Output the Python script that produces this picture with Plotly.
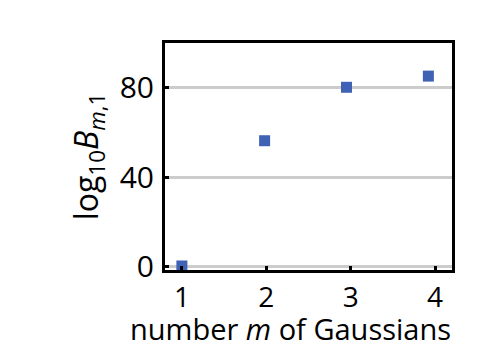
import plotly.graph_objects as go

m_values = [1, 1.98, 2.95, 3.92]
log10_B = [0.3, 56.3, 80.2, 85.2]
x_ticks = [1, 2, 3, 4]
y_ticks = [0, 40, 80]
x_title = "number <i>m</i> of Gaussians"
y_title = "log<sub>10</sub><i>B</i><sub><i>m</i>,1</sub>"

FONT = "Open Sans"
fig = go.Figure()
fig.add_trace(go.Scatter(
    x=m_values, y=log10_B, mode="markers",
    marker=dict(symbol="square", size=11, color="#4062B4", line=dict(width=0)),
    showlegend=False, cliponaxis=False,
))
axis_common = dict(
    showline=True, linecolor="black", linewidth=3, mirror=True,
    ticks="inside", ticklen=4, tickwidth=2.5, tickcolor="black",
    zeroline=False, automargin=False,
)
fig.update_xaxes(range=[0.8, 4.2], tickvals=x_ticks, showgrid=False,
                 ticklabelstandoff=0,
                 tickfont=dict(family=FONT, size=28, color="black"),
                 **axis_common)
fig.update_yaxes(range=[-1.5, 100], tickvals=y_ticks, showgrid=True,
                 gridcolor="#CCCCCC", gridwidth=2.5, ticklabelstandoff=2,
                 tickfont=dict(family=FONT, size=30, color="black"),
                 title=dict(text=y_title, standoff=12,
                            font=dict(family=FONT, size=32, color="black")),
                 **axis_common)
fig.add_annotation(
    text=x_title, xref="paper", yref="paper", x=0.437, y=0,
    xanchor="center", yanchor="top", yshift=-37, showarrow=False,
    font=dict(family=FONT, size=29, color="black"),
)
fig.update_layout(
    width=479, height=342,
    margin=dict(l=157, r=35, t=35, b=80),
    paper_bgcolor="white", plot_bgcolor="white",
    font=dict(family=FONT, color="black"),
)
fig.write_html("out.html")
